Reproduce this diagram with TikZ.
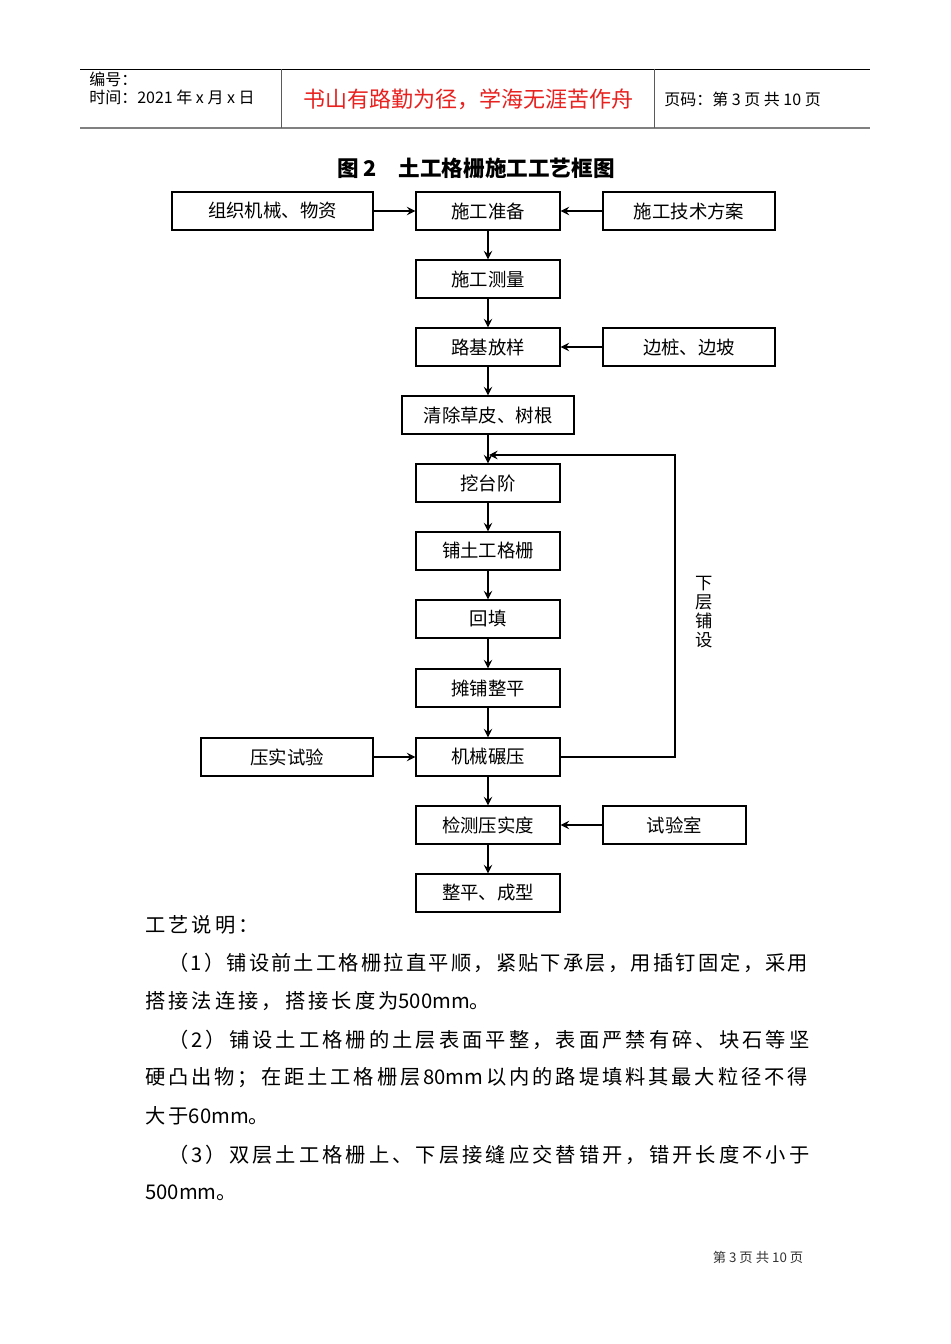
\documentclass[tikz,border=0pt]{standalone}
\usepackage{fontspec}
\setmainfont{Noto Sans CJK SC}
\newfontfamily\cjkls[LetterSpace=15]{Noto Sans CJK SC}
\newfontfamily\cjkn{Noto Sans CJK SC}
\usetikzlibrary{arrows.meta}
\definecolor{hdrred}{HTML}{E8201E}
\definecolor{rulegray}{HTML}{808080}
\newcommand\bx[6]{\node[box, minimum width={(#4-#2)*0.75pt}, minimum height={(#5-#3)*0.75pt}] (#1) at ({(#2+#4)/2},{(#3+#5)/2}) {\raisebox{-2pt}{#6}};}
\newcommand\nm[1]{{\cjkn #1}}
\makeatletter
\newcommand\spreadline[2]{\hbox to #1{\cjkn\@tfor\sp@tok:=#2\do{\sp@tok\hfil}\unskip}}
\makeatother
\begin{document}
\begin{tikzpicture}[x=0.75pt,y=-0.75pt,
  box/.style={draw, line width=0.9pt, inner sep=0pt, font=\fontsize{13.8pt}{15pt}\selectfont},
  arr/.style={line width=0.8pt, -{Stealth[length=6.5pt,width=6.5pt,inset=2.4pt]}},
  para/.style={anchor=west, inner sep=0pt, font=\fontsize{15.2pt}{18pt}\selectfont},
  hdr/.style={anchor=west, inner sep=0pt, font=\fontsize{12pt}{13pt}\selectfont}]
\useasboundingbox (0,0) rectangle (950,1344);
% header
\draw[line width=0.7pt] (80,69) -- (870,69);
\draw[rulegray, line width=1.6pt] (80,128) -- (870,128);
\draw[rulegray!70!black, line width=0.7pt] (281,69) -- (281,128);
\draw[rulegray!70!black, line width=0.7pt] (654,69) -- (654,128);
\node[hdr] (h1) at (89,79) {编号：};
\node[hdr] (h2) at (89,97) {时间：2021 年 x 月 x 日};
\node[inner sep=0pt, text=hdrred, font=\fontsize{16.5pt}{18pt}\selectfont] (h3) at (468,99) {书山有路勤为径，学海无涯苦作舟};
\node[hdr] (h4) at (664,99) {页码：第 3 页 共 10 页};
% title
\node[inner sep=0pt, font=\fontsize{16.2pt}{18pt}\selectfont\bfseries] (title) at (476,168) {图 2\quad 土工格栅施工工艺框图};
% boxes
\bx{a}{172}{192}{373}{230}{组织机械、物资}
\bx{b}{416}{192}{560}{230}{施工准备}
\bx{c}{603}{192}{775}{230}{施工技术方案}
\bx{d}{416}{260}{560}{298}{施工测量}
\bx{e}{416}{328}{560}{366}{路基放样}
\bx{f}{603}{328}{775}{366}{边桩、边坡}
\bx{g}{402}{396}{574}{434}{清除草皮、树根}
\bx{h}{416}{464}{560}{502}{挖台阶}
\bx{i}{416}{532}{560}{570}{铺土工格栅}
\bx{j}{416}{600}{560}{638}{回填}
\bx{k}{416}{669}{560}{707}{摊铺整平}
\bx{l}{201}{738}{373}{776}{压实试验}
\bx{m}{416}{738}{560}{776}{机械碾压}
\bx{n}{416}{806}{560}{844}{检测压实度}
\bx{o}{603}{806}{746}{844}{试验室}
\bx{p}{416}{874}{560}{912}{整平、成型}
% connectors
\draw[arr] (a.east) -- (b.west);
\draw[arr] (c.west) -- (b.east);
\draw[arr] (b.south) -- (d.north);
\draw[arr] (d.south) -- (e.north);
\draw[arr] (f.west) -- (e.east);
\draw[arr] (e.south) -- (g.north);
\draw[arr] (g.south) -- (h.north);
\draw[arr] (h.south) -- (i.north);
\draw[arr] (i.south) -- (j.north);
\draw[arr] (j.south) -- (k.north);
\draw[arr] (k.south) -- (m.north);
\draw[arr] (l.east) -- (m.west);
\draw[arr] (m.south) -- (n.north);
\draw[arr] (o.west) -- (n.east);
\draw[arr] (n.south) -- (p.north);
\coordinate (lc) at (675,455);
\coordinate (le) at (489,455);
\draw[arr] (m.east) -| (lc) -- (le);
\node[inner sep=0pt, align=center, font=\fontsize{13pt}{14.2pt}\selectfont] (lbl) at (704,612) {下\\层\\铺\\设};
% description
\node[para] (t0) at (145,925) {\cjkls 工艺说明：};
\node[para] (t1) at (168,963) {\spreadline{480pt}{（1）铺设前土工格栅拉直平顺，紧贴下承层，用插钉固定，采用}};
\node[para] (t2) at (145,1001) {\cjkls 搭接法连接，搭接长度为\nm{500mm}。};
\node[para] (t3) at (168,1040) {\spreadline{481pt}{（2）铺设土工格栅的土层表面平整，表面严禁有碎、块石等坚}};
\node[para] (t4) at (145,1078) {\spreadline{497pt}{硬凸出物；在距土工格栅层{80mm}以内的路堤填料其最大粒径不得}};
\node[para] (t5) at (145,1116) {\cjkls 大于\nm{60mm}。};
\node[para] (t6) at (168,1155) {\spreadline{481pt}{（3）双层土工格栅上、下层接缝应交替错开，错开长度不小于}};
\node[para] (t7) at (145,1193) {\nm{500mm}\cjkls 。};
% footer
\node[inner sep=0pt, text=black!80, font=\fontsize{10pt}{12pt}\selectfont] (foot) at (758,1257) {第 3 页 共 10 页};
\end{tikzpicture}
\end{document}
